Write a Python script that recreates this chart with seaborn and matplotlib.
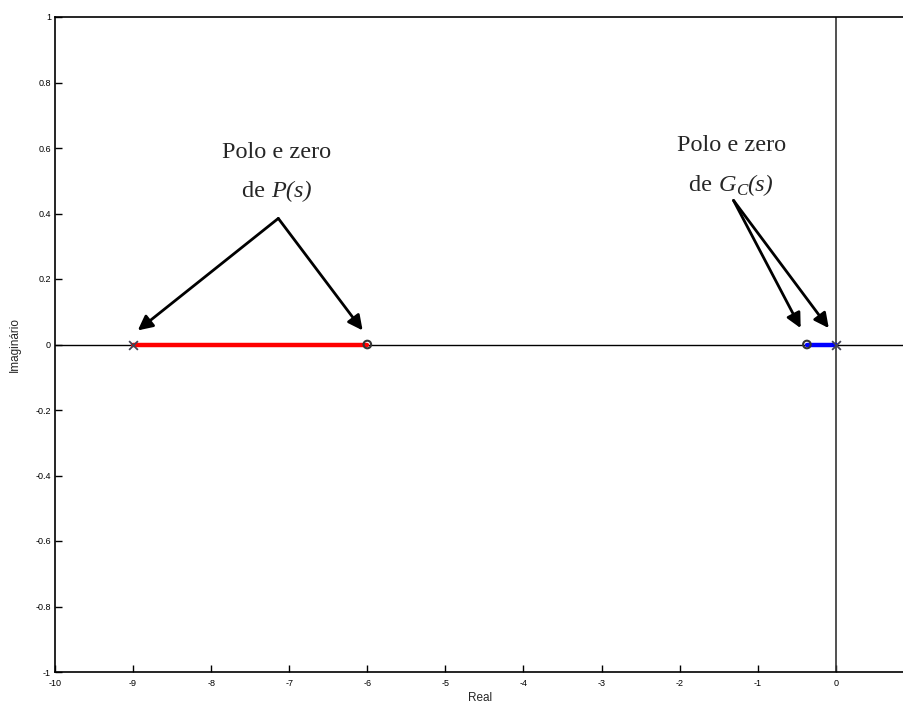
import matplotlib
matplotlib.use("Agg")
import matplotlib.pyplot as plt
import seaborn as sns
import pandas as pd
import numpy as np

sns.set_style("white")
plt.rcParams['font.family'] = ['Liberation Sans', 'DejaVu Sans']

# Data
p_locus_x = [-9.0, -6.0]        # root locus branch of P(s)
gc_locus_x = [-0.37, 0.0]       # root locus branch of Gc(s)
poles_x = [-9.0, 0.0]
zeros_x = [-6.0, -0.37]
x_ticks = [-10, -9, -8, -7, -6, -5, -4, -3, -2, -1, 0]
y_ticks = [-1, -0.8, -0.6, -0.4, -0.2, 0, 0.2, 0.4, 0.6, 0.8, 1]
y_tick_labels = ['-1', '-0.8', '-0.6', '-0.4', '-0.2', '0', '0.2', '0.4', '0.6', '0.8', '1']

df_p = pd.DataFrame({"Real": p_locus_x, "Imag": [0.0] * len(p_locus_x)})
df_g = pd.DataFrame({"Real": gc_locus_x, "Imag": [0.0] * len(gc_locus_x)})
df_poles = pd.DataFrame({"Real": poles_x, "Imag": [0.0] * len(poles_x)})
df_zeros = pd.DataFrame({"Real": zeros_x, "Imag": [0.0] * len(zeros_x)})

fig = plt.figure(figsize=(9.04, 7.04), dpi=100)
ax = fig.add_axes([55 / 904, 1 - 672 / 704, 1 - 55 / 904 + 0.001, (672 - 17) / 704])

ax.axhline(0, color='black', lw=1.0, zorder=1)
ax.axvline(0, color='#333333', lw=1.2, zorder=1)

sns.lineplot(data=df_p, x="Real", y="Imag", color='#ff0000', lw=3.2, ax=ax, zorder=2)
sns.lineplot(data=df_g, x="Real", y="Imag", color='#0000ff', lw=3.2, ax=ax, zorder=2)
sns.scatterplot(data=df_poles, x="Real", y="Imag", marker='x', s=40, color='#444455',
                linewidth=1.3, ax=ax, zorder=3)
sns.scatterplot(data=df_zeros, x="Real", y="Imag", marker='o', s=30, facecolor='none',
                edgecolor='#333333', linewidth=1.5, ax=ax, zorder=3)

ax.set_xlim(-10, 0.885)
ax.set_ylim(-1, 1)
ax.set_xticks(x_ticks)
ax.set_xticklabels([str(t) for t in x_ticks])
ax.set_yticks(y_ticks)
ax.set_yticklabels(y_tick_labels)
ax.tick_params(axis='x', direction='in', length=5, width=1, labelsize=6.5,
               colors='black', pad=5, bottom=True)
ax.tick_params(axis='y', direction='in', length=5, width=1, labelsize=6.5,
               colors='black', pad=3, left=True)
for side in ['left', 'bottom', 'top']:
    ax.spines[side].set_color('black')
    ax.spines[side].set_linewidth(1.2)
ax.spines['right'].set_visible(False)
ax.set_xlabel("Real", fontsize=8.5, labelpad=3)
ax.set_ylabel("Imaginário", fontsize=8.5, labelpad=10)

arrow = dict(arrowstyle='-|>', lw=2, color='black', mutation_scale=22, shrinkA=0, shrinkB=0)
ax.annotate("", xy=(-8.94, 0.043), xytext=(-7.14, 0.385), arrowprops=arrow)
ax.annotate("", xy=(-6.06, 0.043), xytext=(-7.14, 0.385), arrowprops=arrow)
ax.annotate("", xy=(-0.45, 0.05), xytext=(-1.31, 0.44), arrowprops=arrow)
ax.annotate("", xy=(-0.09, 0.05), xytext=(-1.31, 0.44), arrowprops=arrow)

serif = ['Liberation Serif', 'DejaVu Serif']
FS = 17.5
ax.text(-7.16, 0.585, "Polo e zero", ha='center', va='center', fontsize=FS, family=serif)
ax.text(-1.34, 0.607, "Polo e zero", ha='center', va='center', fontsize=FS, family=serif)

# second lines built from pieces (roman "de", italic symbol, subscript)
fig.canvas.draw()
renderer = fig.canvas.get_renderer()


def chain(pieces, x_center_data, y_data):
    # pieces: list of (text, style, size, dy_pixels)
    x0, yb = ax.transData.transform((x_center_data, y_data))
    objs = []
    x = 0.0
    for txt, style, size, dy in pieces:
        t = fig.text(x0 + x, yb + dy, txt, transform=None, ha='left', va='baseline',
                     fontsize=size, family=serif, fontstyle=style)
        x = t.get_window_extent(renderer).x1 - x0
        objs.append(t)
    total = x
    for t in objs:
        px, py = t.get_position()
        t.set_position((px - total / 2, py))


chain([("de ", 'normal', FS, 0), ("P(s)", 'italic', FS, 0)], -7.16, 0.449)
chain([("de ", 'normal', FS, 0), ("G", 'italic', FS, 0), ("C", 'italic', FS * 0.7, -4),
       ("(s)", 'italic', FS, 0)], -1.34, 0.47)

fig.savefig("out.png", dpi=100)
